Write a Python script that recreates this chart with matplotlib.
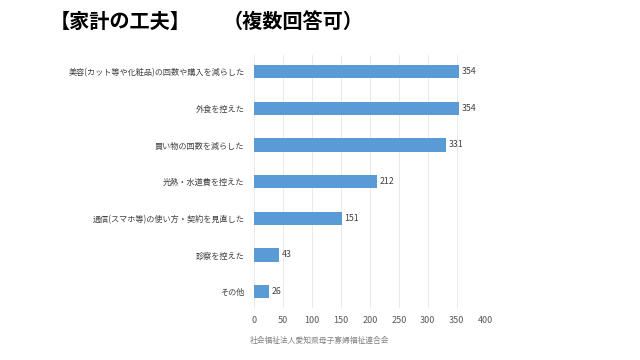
import matplotlib
matplotlib.use("Agg")
import matplotlib.pyplot as plt

plt.rcParams["font.family"] = ["Noto Sans CJK JP", "DejaVu Sans"]

# Data.
categories = [
    "美容(カット等や化粧品)の回数や購入を減らした",
    "外食を控えた",
    "買い物の回数を減らした",
    "光熱・水道費を控えた",
    "通信(スマホ等)の使い方・契約を見直した",
    "診察を控えた",
    "その他",
]
values = [354, 354, 331, 212, 151, 43, 26]
x_ticks = [0, 50, 100, 150, 200, 250, 300, 350, 400]

fig = plt.figure(figsize=(6.4, 3.6), dpi=100)
ax = fig.add_axes([0.397, 0.144, 0.362, 0.703])

pos = list(range(len(categories)))
ax.barh(pos, values, height=0.36, color="#5B9BD5", zorder=3)
for p, v in zip(pos, values):
    ax.text(v + 5, p, str(v), va="center", ha="left", fontsize=6.3, color="#404040")

ax.set_ylim(6.45, -0.45)
ax.set_xlim(0, 400)
ax.set_yticks(pos)
ax.set_yticklabels(categories, fontsize=5.85, color="#404040")
ax.set_xticks(x_ticks)
ax.set_xticklabels([str(t) for t in x_ticks], fontsize=6.5, color="#595959")
ax.grid(axis="x", color="#E6E6E6", linewidth=0.6, zorder=0)
ax.tick_params(axis="y", length=0, pad=7)
ax.tick_params(axis="x", length=0, pad=6)
for s in ax.spines.values():
    s.set_visible(False)

fig.text(0.078, 0.94, "【家計の工夫】", fontsize=14.5,
         fontweight="bold", ha="left", va="center", color="black")
fig.text(0.348, 0.94, "（複数回答可）", fontsize=14.5,
         fontweight="bold", ha="left", va="center", color="black")
fig.text(0.5, 0.053, "社会福祉法人愛知県母子寡婦福祉連合会", fontsize=5.6,
         ha="center", va="center", color="#808080")

fig.savefig("out.png", dpi=100)
